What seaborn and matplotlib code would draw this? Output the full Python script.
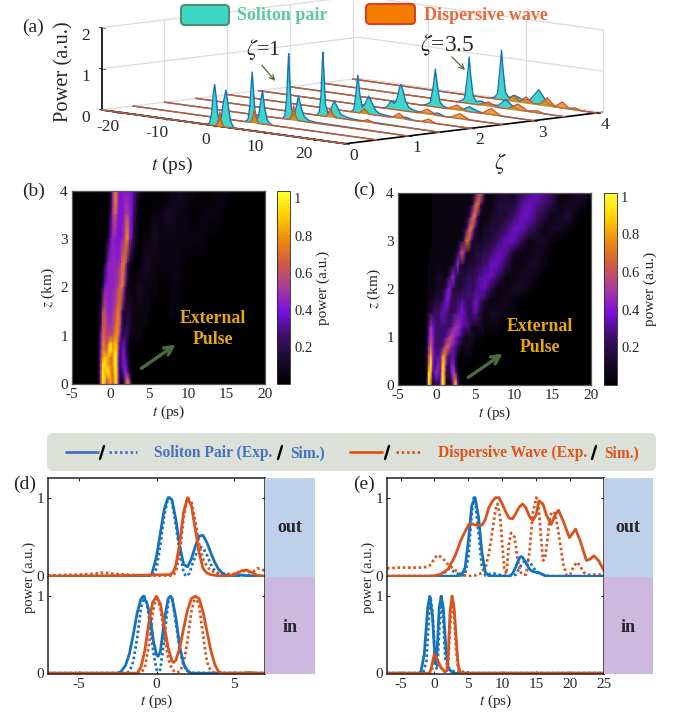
import matplotlib
matplotlib.use("Agg")
import matplotlib.pyplot as plt
import seaborn as sns
import numpy as np
from matplotlib.colors import LinearSegmentedColormap
from matplotlib.patches import FancyBboxPatch, FancyArrowPatch, Rectangle

W, H = 673, 717

# panel (a): one list per zeta
zeta_levels = [0, 0.5, 1, 1.5, 2, 2.5, 3, 3.5, 4]
soliton_t = [
    [-24, -2.5, -2, -1.6, -1.3, -1, -0.7, -0.4, 0, 0.4, 0.8, 1.3, 1.8, 2.2, 2.7, 3.2, 25.6],
    [-24, -1.2, -0.6, -0.2, 0.05, 0.26, 0.5, 0.8, 1.2, 1.6, 2, 2.35, 2.8, 3.3, 3.9, 4.5, 25.6],
    [-24, 0, 0.5, 0.9, 1.15, 1.3, 1.5, 1.8, 2.2, 2.7, 3.3, 3.9, 4.5, 5.5, 7, 25.6],
    [-24, 0.6, 1.1, 1.5, 1.75, 1.9, 2.1, 2.4, 2.9, 3.5, 4.2, 4.9, 5.5, 7, 9, 25.6],
    [-24, 1.2, 1.8, 2.2, 2.6, 3, 3.5, 4.1, 4.8, 5.5, 6.2, 7, 9, 11, 12.5, 14, 25.6],
    [-24, 1.5, 2.2, 3, 3.7, 4.3, 4.7, 5, 5.4, 5.9, 6.6, 7.5, 9, 11, 12.5, 14, 25.6],
    [-24, 3, 3.9, 4.6, 5.2, 5.6, 6, 6.5, 7.2, 8, 9, 11, 12.6, 14, 15.5, 25.6],
    [-24, 3.5, 4.5, 5.2, 5.8, 6.1, 6.4, 6.9, 7.6, 8.5, 10, 12, 13.6, 15, 16.5, 25.6],
    [-24, 4, 4.9, 5.5, 6, 6.3, 6.6, 7.1, 7.8, 9, 10.5, 12, 13.9, 15.5, 17, 25.6],
]
soliton_p = [
    [0, 0, 0.06, 0.3, 0.75, 1, 0.7, 0.3, 0.12, 0.25, 0.6, 0.9, 0.5, 0.18, 0.05, 0, 0],
    [0, 0, 0.06, 0.4, 0.9, 1.23, 0.8, 0.3, 0.1, 0.2, 0.55, 0.81, 0.4, 0.12, 0.03, 0, 0],
    [0, 0, 0.07, 0.5, 1.25, 1.6, 1, 0.3, 0.1, 0.25, 0.6, 0.3, 0.12, 0.04, 0.02, 0],
    [0, 0, 0.07, 0.5, 1.25, 1.55, 1, 0.3, 0.08, 0.2, 0.4, 0.25, 0.1, 0.04, 0.02, 0],
    [0, 0, 0.07, 0.45, 0.91, 0.45, 0.15, 0.25, 0.44, 0.28, 0.12, 0.05, 0.02, 0.02, 0.05, 0, 0],
    [0, 0, 0.05, 0.2, 0.15, 0.3, 0.55, 0.63, 0.5, 0.25, 0.1, 0.05, 0.02, 0.02, 0.06, 0, 0],
    [0, 0, 0.04, 0.1, 0.5, 0.92, 0.55, 0.15, 0.05, 0.02, 0.02, 0.03, 0.12, 0.05, 0.01, 0],
    [0, 0, 0.04, 0.12, 0.7, 1.13, 0.7, 0.2, 0.07, 0.1, 0.05, 0.05, 0.22, 0.08, 0.01, 0],
    [0, 0, 0.04, 0.14, 0.75, 1.2, 0.75, 0.2, 0.08, 0.15, 0.08, 0.08, 0.37, 0.1, 0.01, 0],
]
wave_t = [
    [-24, -0.7, -0.2, 0.05, 0.3, 0.8, 25.6],
    [-24, 0, 0.4, 0.7, 1, 1.5, 25.6],
    [-24, 1.5, 2, 2.3, 2.6, 3.2, 25.6],
    [-24, 2.6, 3.1, 3.5, 3.9, 4.5, 9.5, 11, 12.5, 25.6],
    [-24, 3, 3.9, 5, 9.5, 11, 12.5, 15.5, 17, 18.5, 25.6],
    [-24, 8.5, 10.4, 12.3, 15, 17, 19, 25.6],
    [-24, 8, 10, 12, 15, 17, 19, 25.6],
    [-24, 8, 10, 12, 14, 16, 18, 20, 21.5, 25.6],
    [-24, 7.5, 8.7, 10, 11.3, 12.8, 14, 15.6, 17.2, 18.7, 20, 21.3, 22.5, 25.6],
]
wave_p = [
    [0, 0, 0.15, 0.35, 0.15, 0, 0],
    [0, 0, 0.15, 0.32, 0.15, 0, 0],
    [0, 0, 0.15, 0.35, 0.15, 0, 0],
    [0, 0, 0.1, 0.2, 0.08, 0, 0, 0.06, 0, 0],
    [0, 0, 0.12, 0, 0, 0.12, 0, 0, 0.08, 0, 0],
    [0, 0, 0.12, 0, 0, 0.12, 0, 0],
    [0, 0, 0.12, 0, 0, 0.15, 0, 0],
    [0, 0, 0.1, 0, 0, 0.15, 0.02, 0.05, 0, 0],
    [0, 0, 0.15, 0.02, 0.15, 0.02, 0.02, 0.2, 0.02, 0.15, 0.02, 0.05, 0, 0],
]
t_ticks_a = [-20, -10, 0, 10, 20]
zeta_ticks = [0, 1, 2, 3, 4]
power_ticks = [0, 1, 2]

# panels (b), (c): each char is power in steps of 0.05, 0..k, rows from z=4 down
LEVELS = "0123456789abcdefghijk"
map_b_t = [-5, -3, -2, -1.75, -1.5, -1.25, -1, -0.75, -0.5, -0.25, 0, 0.25, 0.5, 0.75, 1, 1.25, 1.5, 1.75, 2,
           2.25, 2.5, 2.75, 3, 3.5, 4, 4.5, 5, 5.5, 6, 6.5, 7, 8, 9, 10, 11, 12, 13, 14, 15, 16, 17, 18, 19, 20]
map_b_z = [4, 3.5, 3, 2.5, 2, 1.5, 1.2, 1, 0.85, 0.7, 0.55, 0.4, 0.25, 0.1, 0]
map_b_rows = [
    "000 00000002 8fga88 98888 6 31000000 1211001100000",
    "000 00000014 9dc888 9bb98 5 10001112 2110111000000",
    "000 00000137 998889 afg97 3 10112211 1111100000000",
    "000 00002699 9999ae fb520 0 01221111 1100000000000",
    "000 00138999 99abef a4111 1 22111100 1100000000000",
    "000 013bca99 abdfd6 22332 1 11110000 1000000000000",
    "000 015ddbaa bcffc5 34432 1 11100000 0000000000000",
    "000 028edbbc cegf84 45421 1 11000000 0000000000000",
    "000 028fecfi ghhc66 75311 0 10000000 0000000000000",
    "000 029fedik hhjb57 85210 0 00000000 0000000000000",
    "000 02agihhe ekka47 86310 0 00000000 0000000000000",
    "000 03bjkhgf fjj947 87410 0 00000000 0000000000000",
    "000 03ckhjkg eika35 89620 0 00000000 0000000000000",
    "000 03ckiegh ehka33 6be71 0 00000000 0000000000000",
    "000 01bkhceg dgk921 3cgb2 0 00000000 0000000000000",
]
map_c_t = [-5, -3, -2, -1.75, -1.5, -1.25, -1, -0.75, -0.5, -0.25, 0, 0.25, 0.5, 0.75, 1, 1.25, 1.5, 1.75,
           2, 2.25, 2.5, 2.75, 3, 3.25, 3.5, 3.75, 4, 4.25, 4.5, 4.75, 5, 5.25, 5.5, 5.75, 6, 6.25, 6.5,
           7, 8, 9, 10, 11, 12, 13, 14, 15, 16, 17, 18, 19, 20]
map_c_z = [4, 3.75, 3.5, 3.25, 3, 2.75, 2.5, 2.25, 2, 1.75, 1.5, 1.2, 1, 0.8, 0.6, 0.4, 0.25, 0.1, 0]
map_c_rows = [
    "000 000 0011 1111 1111 1111 1111 1111 26ce a41 12324 67651 1231",
    "000 000 0011 1111 1111 1111 1111 1125 cfc5 211 13336 76531 2210",
    "000 000 0011 1111 1111 1111 1111 149f e731 111 23357 75312 3100",
    "000 000 0011 1111 1111 1111 1113 7ef9 4211 222 33577 53122 1000",
    "000 000 0011 1111 1111 1111 125c fc52 2222 233 35774 12210 0000",
    "000 000 0111 1111 1111 1113 8db5 2222 3333 444 57621 12100 0000",
    "000 000 1111 1111 1111 136a 5322 2333 3444 555 77411 22100 0000",
    "000 000 1111 2222 1135 9953 2333 4444 5566 677 74112 21000 0000",
    "000 000 1111 2222 3588 5333 3344 5554 5667 776 41122 10000 0000",
    "000 001 1223 3334 6886 4445 5665 5556 7765 432 11210 00000 0000",
    "000 001 2345 5567 7654 4456 7876 5456 7643 211 22110 00000 0000",
    "000 002 6a86 5555 5555 79aa 9766 6531 1122 211 11000 00000 0000",
    "000 002 7b96 5555 568b ca87 6531 1222 2111 100 00000 00000 0000",
    "000 002 9d96 5555 9deb 8764 3112 2211 0000 000 00000 00000 0000",
    "000 003 cha6 667f gb65 6642 1011 1110 0000 000 00000 00000 0000",
    "000 003 ek95 796i h746 9831 0000 0000 0000 000 00000 00000 0000",
    "000 003 jh67 a77i g535 9b72 0000 0000 0000 000 00000 00000 0000",
    "000 004 kf45 657k h423 6cf6 1000 0000 0000 000 00000 00000 0000",
    "000 004 ke32 338k g311 3ci8 1000 0000 0000 000 00000 00000 0000",
]
map_ticks_t = [-5, 0, 5, 10, 15, 20]
map_ticks_z = [0, 1, 2, 3, 4]
bar_ticks = [0.2, 0.4, 0.6, 0.8, 1]

# panel (d)
d_out_blue_t = [-7, -0.5, -0.3, 0, 0.25, 0.5, 0.7, 0.85, 1, 1.25, 1.5, 1.75, 2, 2.25, 2.5, 2.75, 3, 3.25, 3.5, 3.75, 4, 4.25, 4.5, 5, 5.5, 6, 7]
d_out_blue_p = [0, 0, 0.03, 0.25, 0.55, 0.85, 0.98, 1, 0.97, 0.72, 0.38, 0.15, 0.12, 0.22, 0.38, 0.51, 0.52, 0.43, 0.3, 0.18, 0.09, 0.04, 0.01, 0, 0.015, 0.005, 0]
d_out_blue_sim_t = [-7, -0.25, 0, 0.25, 0.5, 0.75, 1, 1.25, 1.5, 1.75, 1.9, 2.1, 2.4, 2.75, 3, 3.25, 3.5, 3.75, 4, 4.5, 7]
d_out_blue_sim_p = [0, 0, 0.1, 0.4, 0.78, 1, 0.95, 0.65, 0.3, 0.05, 0, 0.03, 0.2, 0.38, 0.36, 0.27, 0.15, 0.07, 0.03, 0.02, 0]
d_out_red_t = [-7, -3, -0.5, 0.9, 1.1, 1.25, 1.5, 1.75, 2, 2.25, 2.5, 2.75, 3, 3.25, 3.5, 4, 4.5, 5, 5.5, 5.8, 6.25, 6.5, 7]
d_out_red_p = [0, 0.005, 0.015, 0.02, 0.06, 0.14, 0.42, 0.82, 1, 0.9, 0.6, 0.3, 0.1, 0.04, 0.02, 0.005, 0, 0.02, 0.07, 0.08, 0.04, 0.01, 0]
d_out_red_sim_t = [-7, -5, -4, -3.4, -3, -2, -1, 0, 1, 1.25, 1.5, 1.75, 2, 2.25, 2.5, 2.75, 3, 3.25, 3.5, 4, 4.5, 5, 5.5, 5.8, 6, 6.25, 6.5, 6.75, 7]
d_out_red_sim_p = [0.01, 0.02, 0.03, 0.05, 0.035, 0.02, 0.01, 0, 0, 0.05, 0.3, 0.75, 1, 0.95, 0.7, 0.4, 0.22, 0.13, 0.07, 0.04, 0.03, 0.03, 0.06, 0.07, 0.05, 0.06, 0.1, 0.09, 0.07]
d_in_blue_t = [-7, -2.5, -2.3, -2, -1.75, -1.5, -1.25, -1, -0.85, -0.6, -0.4, -0.2, 0, 0.1, 0.25, 0.5, 0.75, 0.9, 1, 1.25, 1.5, 1.75, 2, 2.25, 7]
d_in_blue_p = [0, 0, 0.02, 0.1, 0.25, 0.5, 0.78, 0.97, 1, 0.9, 0.72, 0.42, 0.24, 0.22, 0.28, 0.68, 0.97, 1, 0.98, 0.72, 0.35, 0.12, 0.03, 0, 0]
d_in_blue_sim_t = [-7, -2, -1.75, -1.5, -1.25, -1, -0.8, -0.6, -0.4, -0.2, 0, 0.1, 0.25, 0.5, 0.75, 0.9, 1, 1.25, 1.5, 1.75, 2, 2.25, 7]
d_in_blue_sim_p = [0, 0, 0.02, 0.15, 0.45, 0.85, 1, 0.9, 0.6, 0.27, 0.05, 0.02, 0.05, 0.45, 0.92, 1, 0.98, 0.65, 0.3, 0.1, 0.03, 0.005, 0]
d_in_red_t = [-7, -1.25, -1, -0.75, -0.5, -0.25, 0, 0.25, 0.5, 0.75, 1, 1.1, 1.25, 1.5, 1.75, 2, 2.25, 2.5, 2.75, 3, 3.25, 3.5, 3.75, 4, 4.25, 5.5, 6, 6.5, 7]
d_in_red_p = [0, 0, 0.08, 0.3, 0.65, 0.92, 1, 0.9, 0.62, 0.33, 0.16, 0.14, 0.17, 0.33, 0.58, 0.82, 0.97, 1, 0.97, 0.8, 0.55, 0.3, 0.12, 0.02, 0, 0, 0.01, 0, 0]
d_in_red_sim_t = [-7, -1, -0.75, -0.5, -0.25, 0, 0.25, 0.5, 0.75, 1, 1.25, 1.5, 1.75, 2, 2.25, 2.5, 2.75, 3, 3.25, 3.5, 3.75, 7]
d_in_red_sim_p = [0, 0, 0.08, 0.35, 0.78, 1, 0.85, 0.5, 0.2, 0.05, 0.01, 0.02, 0.13, 0.42, 0.8, 1, 0.88, 0.5, 0.15, 0.03, 0, 0]

# panel (e)
e_out_blue_t = [-7, 3.4, 4, 4.5, 5, 5.5, 6, 6.5, 7, 7.5, 8, 11, 11.5, 12, 12.5, 12.75, 13, 13.5, 14, 14.5, 15, 15.5, 16, 16.5, 25]
e_out_blue_p = [0, 0, 0.02, 0.1, 0.45, 0.9, 1, 0.75, 0.3, 0.05, 0.005, 0, 0.03, 0.12, 0.23, 0.25, 0.24, 0.17, 0.09, 0.06, 0.05, 0.04, 0.02, 0, 0]
e_out_blue_sim_t = [-7, 0, 1, 2.2, 3, 3.7, 4, 4.5, 5, 5.5, 5.8, 6, 6.5, 7, 7.5, 8.5, 9, 10, 11, 12, 12.5, 13, 13.5, 14, 14.5, 15, 16, 17, 25]
e_out_blue_sim_p = [0, 0, 0.01, 0.1, 0.05, 0.02, 0.01, 0.02, 0.25, 0.8, 1, 0.98, 0.55, 0.12, 0.01, 0.04, 0.03, 0.01, 0, 0.02, 0.1, 0.17, 0.21, 0.19, 0.12, 0.06, 0.02, 0, 0]
e_out_red_t = [-7, -1, 0, 1, 2, 3, 4, 5, 5.5, 6, 7, 7.5, 8, 8.5, 9, 9.5, 10, 10.5, 11, 11.5, 12, 12.5, 13, 13.5, 14, 14.5, 15, 15.4, 16, 16.5, 17.2, 17.8, 18.3, 19, 19.9, 20.4, 20.8, 21.5, 22.4, 23, 23.5, 24.2, 25]
e_out_red_p = [0, 0, 0.005, 0.03, 0.09, 0.25, 0.48, 0.65, 0.67, 0.65, 0.65, 0.72, 0.87, 0.95, 1, 1, 0.92, 0.82, 0.74, 0.73, 0.8, 0.88, 0.92, 0.87, 0.76, 0.71, 0.78, 0.96, 0.92, 0.78, 0.66, 0.78, 0.84, 0.7, 0.49, 0.55, 0.6, 0.45, 0.2, 0.22, 0.26, 0.2, 0.07]
e_out_red_sim_t = [-7, -5, -3, -2, -1, -0.5, 0, 0.5, 1, 1.5, 2, 3, 4, 5, 6, 7, 7.5, 8, 8.5, 9, 9.3, 9.7, 10, 10.3, 10.6, 11, 11.3, 11.8, 12.2, 12.6, 13, 13.5, 14, 14.5, 15, 15.3, 15.7, 16, 16.3, 16.7, 17, 17.3, 17.8, 18.3, 19, 19.5, 20, 20.5, 21, 21.5, 22, 22.5, 25]
e_out_red_sim_p = [0.1, 0.11, 0.11, 0.11, 0.12, 0.15, 0.23, 0.27, 0.24, 0.2, 0.15, 0.08, 0.02, 0, 0.01, 0.04, 0.1, 0.28, 0.55, 0.85, 0.92, 0.75, 0.4, 0.1, 0.03, 0.42, 0.55, 0.5, 0.25, 0.06, 0.02, 0.02, 0.3, 0.8, 1, 0.95, 0.5, 0.2, 0.22, 0.5, 0.75, 0.82, 0.8, 0.55, 0.15, 0.01, 0.02, 0.12, 0.18, 0.13, 0.05, 0.02, 0.02]
e_in_blue_t = [-7, -2.3, -2, -1.5, -1, -0.7, -0.3, 0, 0.2, 0.4, 0.7, 1, 1.3, 1.7, 2, 2.5, 3, 25]
e_in_blue_p = [0, 0, 0.02, 0.25, 0.85, 1, 0.75, 0.3, 0.12, 0.3, 0.85, 1, 0.85, 0.3, 0.07, 0.02, 0, 0]
e_in_blue_sim_t = [-7, -1.7, -1.2, -0.9, -0.6, -0.3, 0, 0.2, 0.4, 0.7, 1, 1.3, 1.6, 2, 2.5, 3, 4, 25]
e_in_blue_sim_p = [0, 0, 0.15, 0.6, 1, 0.8, 0.35, 0.08, 0.05, 0.55, 1, 0.7, 0.2, 0.07, 0.05, 0.01, 0, 0]
e_in_red_t = [-7, -0.8, -0.5, -0.2, 0, 0.2, 0.7, 1, 1.5, 1.8, 2, 2.3, 2.6, 2.9, 3.2, 3.5, 3.8, 4, 25]
e_in_red_p = [0, 0, 0.05, 0.18, 0.25, 0.22, 0.12, 0.07, 0.02, 0.03, 0.2, 0.8, 1, 0.85, 0.45, 0.1, 0.01, 0, 0]
e_in_red_sim_t = [-7, -0.5, -0.2, 0, 0.3, 0.8, 1.2, 1.8, 2, 2.3, 2.6, 2.9, 3.2, 3.5, 4, 4.5, 5, 25]
e_in_red_sim_p = [0, 0, 0.12, 0.26, 0.2, 0.1, 0.04, 0.01, 0.08, 0.6, 1, 0.75, 0.3, 0.05, 0.01, 0.03, 0, 0]

BLUE = "#1572bb"
RED = "#d9531e"
SERIF = ["Liberation Serif", "DejaVu Serif"]
DOTS = (0, (0.9, 1.0))

sns.set_style("ticks")
plt.rcParams["font.family"] = SERIF
plt.rcParams["mathtext.fontset"] = "stix"
plt.rcParams["xtick.direction"] = "in"
plt.rcParams["ytick.direction"] = "in"
plt.rcParams["axes.unicode_minus"] = False


def box(x0, y0, x1, y1):
    return [x0 / W, 1 - y1 / H, (x1 - x0) / W, (y1 - y0) / H]


fig = plt.figure(figsize=(W / 100, H / 100), dpi=100)

# overlay in picture pixels for annotations
ov = fig.add_axes([0, 0, 1, 1], zorder=5)
ov.set_xlim(0, W)
ov.set_ylim(H, 0)
ov.axis("off")
ov.patch.set_alpha(0)


def arrow(x0, y0, x1, y1, lw, size):
    ov.add_patch(FancyArrowPatch((x0, y0), (x1, y1), arrowstyle="->", mutation_scale=size, lw=lw, color="#4c6b3c"))


# (a) waterfall, big square axes so nothing is clipped
ax3 = fig.add_axes(box(44, -222, 644, 378), projection="3d", computed_zorder=False)
ax3.set_proj_type("ortho")
ax3.view_init(elev=7.5, azim=-43.2)
ax3.set_box_aspect((356, 353, 83), zoom=0.822)
ax3.set_xlim(-24, 25.6, view_margin=0)
ax3.set_ylim(0, 4.1, view_margin=0)
ax3.set_zlim(0, 2, view_margin=0)
ax3.patch.set_alpha(0)
ax3.grid(False)
for a in [ax3.xaxis, ax3.yaxis, ax3.zaxis]:
    a.set_pane_color((1, 1, 1, 0))
    a.pane.set_edgecolor((1, 1, 1, 0))
    a.line.set_color("black")
    a.line.set_linewidth(1.2)
ax3.zaxis._axinfo["juggled"] = (1, 0, 2)
ax3.set_xticks(t_ticks_a)
ax3.set_yticks(zeta_ticks)
ax3.set_zticks(power_ticks)
ax3.tick_params(axis="x", labelsize=12.5, pad=4)
ax3.tick_params(axis="y", labelsize=12.5, pad=0)
ax3.tick_params(axis="z", labelsize=12.5, pad=-1)
for lab in ax3.get_xticklabels() + ax3.get_yticklabels():
    lab.set_va("top")
wall = "#dcdcdc"
for zeta in zeta_ticks[1:]:
    ax3.plot([-24, -24], [zeta, zeta], [0, 2], color=wall, lw=0.9)
for tv in [-10, 10, 25.6]:
    ax3.plot([tv, tv], [4.1, 4.1], [0, 2], color=wall, lw=0.9)
for pv in [0, 1, 2]:
    ax3.plot([-24, -24, 25.6], [0, 4.1, 4.1], [pv, pv, pv], color=wall, lw=0.9)
ax3.plot([-24, -24], [0, 0], [0, 2], color="black", lw=1.2)
for i in range(len(zeta_levels) - 1, -1, -1):
    zv = zeta_levels[i]
    order = 10 * (len(zeta_levels) - i)
    ts, ps = soliton_t[i], soliton_p[i]
    tw, pw = wave_t[i], wave_p[i]
    ax3.fill_between(ts, [zv] * len(ts), ps, ts, [zv] * len(ts), [0] * len(ts), color="#3fd6c6", alpha=1, lw=0, zorder=order)
    ax3.plot(ts, [zv] * len(ts), ps, color=BLUE, lw=1, zorder=order + 1)
    ax3.fill_between(tw, [zv] * len(tw), pw, tw, [zv] * len(tw), [0] * len(tw), color="#f57c00", alpha=0.75, lw=0, zorder=order + 2)
    ax3.plot(tw, [zv] * len(tw), pw, color="#c9582a", lw=1, zorder=order + 3)

ov.add_patch(FancyBboxPatch((183, 7), 44, 16, boxstyle="round,pad=2,rounding_size=4", fc="#3fd6c6", ec="#4f8f6c", lw=1.5))
ov.add_patch(FancyBboxPatch((368, 6), 45, 16, boxstyle="round,pad=2,rounding_size=4", fc="#f57c00", ec="#d8402a", lw=1.5))
ov.text(237, 16, "Soliton pair", color="#5cc99b", fontsize=13, fontweight="bold", va="center")
ov.text(424, 15, "Dispersive wave", color="#f0663a", fontsize=13, fontweight="bold", va="center")
ov.text(22, 27, "(a)", fontsize=14, va="center")
ov.text(64, 72, "Power (a.u.)", fontsize=14.8, rotation=90, ha="center", va="center")
ov.text(172, 165, r"$t$ (ps)", fontsize=14, ha="center", va="center")
ov.text(500, 163, r"$\zeta$", fontsize=16, ha="center", va="center")
ov.text(263, 50, r"$\zeta$=1", fontsize=16, ha="center", va="center")
ov.text(447, 45, r"$\zeta$=3.5", fontsize=17, ha="center", va="center")
arrow(260, 63, 277, 83, 0.9, 9)
arrow(450, 55, 467, 72, 0.9, 9)

# (b), (c) maps
power_cmap = LinearSegmentedColormap.from_list(
    "power", ["#000000", "#1c0a2e", "#3c0f6a", "#7a0fdc", "#a83aa0", "#d05a40", "#ee8a10", "#ffd000", "#ffff30"]
)


def heat(rect, cbar_rect, ts, zs, rows, vmax):
    ax = fig.add_axes(box(*rect))
    grid = np.array([[LEVELS.index(c) / 20 for c in r.replace(" ", "")] for r in rows])
    mesh = ax.pcolormesh(ts, zs, grid, shading="gouraud", cmap=power_cmap, vmin=0, vmax=vmax, rasterized=True)
    ax.set_xlim(-5, 20)
    ax.set_ylim(0, 4)
    ax.set_xticks(map_ticks_t)
    ax.set_yticks(map_ticks_z)
    ax.tick_params(labelsize=11, length=2.5, color="#555555", top=True, right=True, pad=3)
    for s in ax.spines.values():
        s.set_color("#555555")
        s.set_linewidth(0.9)
    ax.set_xlabel(r"$t$ (ps)", fontsize=11, labelpad=2)
    ax.set_ylabel(r"$z$ (km)", fontsize=11, labelpad=2)
    cax = fig.add_axes(box(*cbar_rect))
    cb = fig.colorbar(mesh, cax=cax, ticks=bar_ticks)
    cb.ax.tick_params(labelsize=10.5, length=2, direction="in", pad=3)
    cb.ax.set_yticklabels(["0.2", "0.4", "0.6", "0.8", "1"])
    cb.outline.set_linewidth(0.6)
    cb.set_label("power (a.u.)", fontsize=11, labelpad=3)


heat((72, 191, 265, 384), (277, 191, 290, 384), map_b_t, map_b_z, map_b_rows, 1.04)
heat((398, 193, 591, 385), (604, 193, 617, 385), map_c_t, map_c_z, map_c_rows, 1.02)
ov.text(22, 191, "(b)", fontsize=14, va="center")
ov.text(353, 190, "(c)", fontsize=14, va="center")
arrow(139, 370, 178, 343, 2.4, 15)
arrow(466, 379, 505, 352, 2.4, 15)
ov.text(213, 329, "External\nPulse", color="#e8a80c", fontsize=12.8, fontweight="bold", ha="center", va="center", linespacing=1.3)
ov.text(540, 337, "External\nPulse", color="#e8a80c", fontsize=12.8, fontweight="bold", ha="center", va="center", linespacing=1.3)

# legend strip
ov.add_patch(FancyBboxPatch((49, 435), 605, 34, boxstyle="round,pad=2,rounding_size=6", fc="#dbe1d8", ec="none"))
ov.plot([66, 98], [452, 452], color="#4472c4", lw=2)
ov.plot([109, 137], [452, 452], color="#4472c4", lw=2, ls=DOTS)
ov.plot([350, 382], [452, 452], color="#e0521b", lw=2)
ov.plot([396, 421], [452, 452], color="#e0521b", lw=2, ls=DOTS)
for sx in [102, 280, 387, 594]:
    ov.plot([sx - 2, sx + 2], [459, 446], color="black", lw=1.7)
ov.text(154, 457, "Soliton Pair (Exp.", color="#4472c4", fontsize=11.2, fontweight="bold", va="baseline")
ov.text(290, 457, "Sim.)", color="#4472c4", fontsize=11.2, fontweight="bold", va="baseline")
ov.text(438, 457, "Dispersive Wave (Exp.", color="#e0521b", fontsize=11.2, fontweight="bold", va="baseline")
ov.text(604, 457, "Sim.)", color="#e0521b", fontsize=11.2, fontweight="bold", va="baseline")


# (d), (e) lines
def line(ax, t, p, color, dotted):
    sns.lineplot(x=t, y=p, ax=ax, color=color, estimator=None, sort=False, errorbar=None,
                 linewidth=2.0, linestyle=DOTS if dotted else "-")


def pair(x0, x1, xlim, xticks, out_lines, in_lines, ylabel_x):
    top = fig.add_axes(box(x0, 478, x1, 577))
    bot = fig.add_axes(box(x0, 577, x1, 674))
    for ax, lines in [(top, out_lines), (bot, in_lines)]:
        for t, p, color, dotted in lines:
            line(ax, t, p, color, dotted)
        ax.set_xlim(*xlim)
        ax.set_ylim(-0.01, 1.25)
        ax.set_yticks([0, 1])
        ax.set_xticks(xticks)
        ax.tick_params(labelsize=11, length=2.5, top=True, right=True, pad=3)
        ax.set_facecolor("white")
        for s in ax.spines.values():
            s.set_linewidth(1.1)
            s.set_color("#222222")
    top.tick_params(labelbottom=False, bottom=False)
    bot.tick_params(top=False)
    top.spines["bottom"].set_visible(False)
    bot.spines["top"].set_visible(False)
    bot.set_xlabel(r"$t$ (ps)", fontsize=11, labelpad=1)
    ov.text(ylabel_x, 577, "power (a.u.)", fontsize=10.5, rotation=90, ha="center", va="center")


pair(48, 265, (-7, 7), [-5, 0, 5],
     [(d_out_blue_sim_t, d_out_blue_sim_p, BLUE, True), (d_out_red_sim_t, d_out_red_sim_p, RED, True),
      (d_out_blue_t, d_out_blue_p, BLUE, False), (d_out_red_t, d_out_red_p, RED, False)],
     [(d_in_blue_sim_t, d_in_blue_sim_p, BLUE, True), (d_in_red_sim_t, d_in_red_sim_p, RED, True),
      (d_in_blue_t, d_in_blue_p, BLUE, False), (d_in_red_t, d_in_red_p, RED, False)], 29)
pair(387, 604, (-7, 25), [-5, 0, 5, 10, 15, 20, 25],
     [(e_out_blue_sim_t, e_out_blue_sim_p, BLUE, True), (e_out_red_sim_t, e_out_red_sim_p, RED, True),
      (e_out_blue_t, e_out_blue_p, BLUE, False), (e_out_red_t, e_out_red_p, RED, False)],
     [(e_in_blue_sim_t, e_in_blue_sim_p, BLUE, True), (e_in_red_sim_t, e_in_red_sim_p, RED, True),
      (e_in_blue_t, e_in_blue_p, BLUE, False), (e_in_red_t, e_in_red_p, RED, False)], 368)
for x0, x1, tx in [(265, 315, 290), (604, 653, 628)]:
    ov.add_patch(Rectangle((x0, 478), x1 - x0, 99, fc="#bfd0ea", ec="none"))
    ov.add_patch(Rectangle((x0, 577), x1 - x0, 97, fc="#cdb8e0", ec="none"))
    ov.text(tx, 528, "out", fontsize=13, fontweight="bold", ha="center", va="center")
    ov.text(tx, 627, "in", fontsize=13, fontweight="bold", ha="center", va="center")
ov.text(13, 484, "(d)", fontsize=14, va="center")
ov.text(353, 484, "(e)", fontsize=14, va="center")

fig.savefig("out.png", dpi=100)
